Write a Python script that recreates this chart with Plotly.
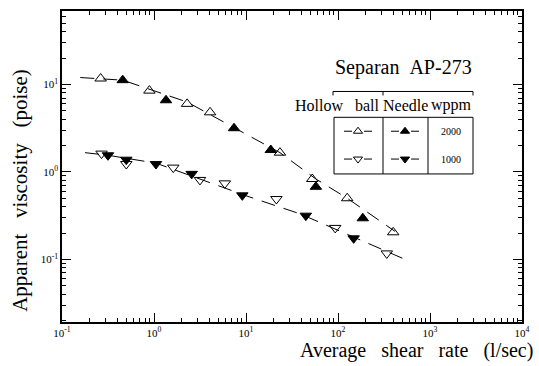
import plotly.graph_objects as go

# ---- data (shear rate in 1/sec, viscosity in poise) ----
hb2000_x = [0.263, 0.891, 2.29, 4.07, 23.4, 52.5, 126, 398]
hb2000_y = [11.7, 8.5, 6.0, 4.8, 1.66, 0.83, 0.50, 0.204]
nd2000_x = [0.457, 1.35, 7.41, 18.6, 57.5, 186]
nd2000_y = [11.2, 6.6, 3.16, 1.78, 0.676, 0.295]
hb1000_x = [0.269, 0.50, 1.62, 3.16, 5.89, 21.4, 93.3, 339]
hb1000_y = [1.62, 1.23, 1.12, 0.81, 0.74, 0.49, 0.229, 0.117]
nd1000_x = [0.316, 0.50, 1.05, 2.57, 9.12, 44.7, 148]
nd1000_y = [1.55, 1.38, 1.23, 0.95, 0.54, 0.316, 0.174]

# fitted (dashed) curves
fit2000_x = [0.158, 0.457, 2.29, 7.41, 23.4, 57.5, 126, 417]
fit2000_y = [12.0, 11.2, 6.3, 3.24, 1.66, 0.83, 0.50, 0.209]
fit1000_x = [0.178, 0.316, 1.05, 3.16, 10.5, 38.9, 148, 513]
fit1000_y = [1.66, 1.55, 1.26, 0.83, 0.525, 0.331, 0.178, 0.102]

x_tickvals = [0.1, 1, 10, 100, 1000, 10000]
x_ticktext = ["10<sup>-1</sup>", "10<sup>0</sup>", "10<sup>1</sup>", "10<sup>2</sup>",
              "10<sup>3</sup>", "10<sup>4</sup>"]
y_tickvals = [0.1, 1, 10]
y_ticktext = ["10<sup>-1</sup>", "10<sup>0</sup>", "10<sup>1</sup>"]

legend_title = "Separan&nbsp;&nbsp;AP-273"
legend_cols = ["Hollow&nbsp;&nbsp;&nbsp;ball", "Needle", "wppm"]
legend_conc = ["2000", "1000"]

SERIF = "Liberation Serif, Times New Roman, serif"
W, H = 539, 366
L, R, T, B = 62, 17, 9, 44
pw, ph = W - L - R, H - T - B


def px(xp):
    return (xp - L) / pw


def py(yp):
    return (H - B - yp) / ph


fig = go.Figure()

for fx, fy in [(fit2000_x, fit2000_y), (fit1000_x, fit1000_y)]:
    fig.add_trace(go.Scatter(x=fx, y=fy, mode="lines",
                             line=dict(color="black", width=1, dash="14px,9px"),
                             hoverinfo="skip", showlegend=False))

series = [
    (hb2000_x, hb2000_y, "triangle-up-open"),
    (nd2000_x, nd2000_y, "triangle-up"),
    (hb1000_x, hb1000_y, "triangle-down-open"),
    (nd1000_x, nd1000_y, "triangle-down"),
]
for sx, sy, sym in series:
    fig.add_trace(go.Scatter(x=sx, y=sy, mode="markers",
                             marker=dict(symbol=sym, size=10, color="black",
                                         line=dict(color="black", width=1)),
                             showlegend=False))

# legend-table markers on an overlay paper-like axis
leg_cols_x = [px(358), px(405)]
leg_rows_y = [py(130), py(158)]
leg_syms = [["triangle-up-open", "triangle-up"], ["triangle-down-open", "triangle-down"]]
for r in range(2):
    for c in range(2):
        fig.add_trace(go.Scatter(x=[leg_cols_x[c]], y=[leg_rows_y[r]], mode="markers",
                                 xaxis="x2", yaxis="y2",
                                 marker=dict(symbol=leg_syms[r][c], size=8, color="black",
                                             line=dict(color="black", width=1)),
                                 showlegend=False, hoverinfo="skip"))

shapes = []
line_k = dict(color="black", width=1)
shapes.append(dict(type="rect", xref="paper", yref="paper",
                   x0=px(334), x1=px(473), y0=py(173), y1=py(116), line=line_k))
for xd in [383, 428]:
    shapes.append(dict(type="line", xref="paper", yref="paper",
                       x0=px(xd), x1=px(xd), y0=py(173), y1=py(116), line=line_k))
shapes.append(dict(type="line", xref="paper", yref="paper",
                   x0=px(333), x1=px(473), y0=py(90), y1=py(90), line=line_k))
for xd in [333, 383, 473]:
    shapes.append(dict(type="line", xref="paper", yref="paper",
                       x0=px(xd), x1=px(xd), y0=py(90), y1=py(94), line=line_k))
for r in range(2):
    for cx in [358, 405]:
        for a, b in [(cx - 14, cx - 6), (cx + 6, cx + 14)]:
            shapes.append(dict(type="line", xref="paper", yref="paper",
                               x0=px(a), x1=px(b), y0=leg_rows_y[r], y1=leg_rows_y[r],
                               line=line_k))


def ann(text, xp, yp, size, **kw):
    d = dict(text=text, x=px(xp), y=py(yp), xref="paper", yref="paper",
             xanchor="center", yanchor="middle", showarrow=False,
             font=dict(family=SERIF, size=size, color="black"))
    d.update(kw)
    return d


annotations = [
    ann(legend_title, 403, 66, 20),
    ann(legend_cols[0], 382, 104, 16, xanchor="right"),
    ann(legend_cols[1], 405, 104, 16),
    ann(legend_cols[2], 451, 104, 16),
    ann(legend_conc[0], 451, 130, 10),
    ann(legend_conc[1], 451, 158, 10),
    ann("Apparent&nbsp;&nbsp;&nbsp;viscosity&nbsp;&nbsp;&nbsp;(poise)", 20, 190, 21,
        textangle=-90),
    ann("Average&nbsp;&nbsp;&nbsp;shear&nbsp;&nbsp;&nbsp;rate&nbsp;&nbsp;&nbsp;(l/sec)", 535, 351, 20,
        xanchor="right"),
]

axis_common = dict(type="log", showgrid=False, zeroline=False, showline=True,
                   linecolor="black", linewidth=1.5, mirror="ticks",
                   ticks="inside", ticklen=9, tickwidth=1, tickcolor="black",
                   tickfont=dict(family=SERIF, size=11, color="black"),
                   minor=dict(ticks="inside", ticklen=4, tickwidth=1, tickcolor="black",
                              dtick="D1", showgrid=False))

fig.update_layout(
    width=W, height=H,
    margin=dict(l=L, r=R, t=T, b=B),
    paper_bgcolor="white", plot_bgcolor="white",
    xaxis=dict(range=[-1, 4], tickvals=x_tickvals, ticktext=x_ticktext, **axis_common),
    yaxis=dict(range=[-1.716, 1.84], tickvals=y_tickvals, ticktext=y_ticktext, **axis_common),
    xaxis2=dict(range=[0, 1], domain=[0, 1], overlaying="x", visible=False, fixedrange=True),
    yaxis2=dict(range=[0, 1], domain=[0, 1], overlaying="y", visible=False, fixedrange=True),
    shapes=shapes, annotations=annotations,
)

fig.write_html("out.html")
